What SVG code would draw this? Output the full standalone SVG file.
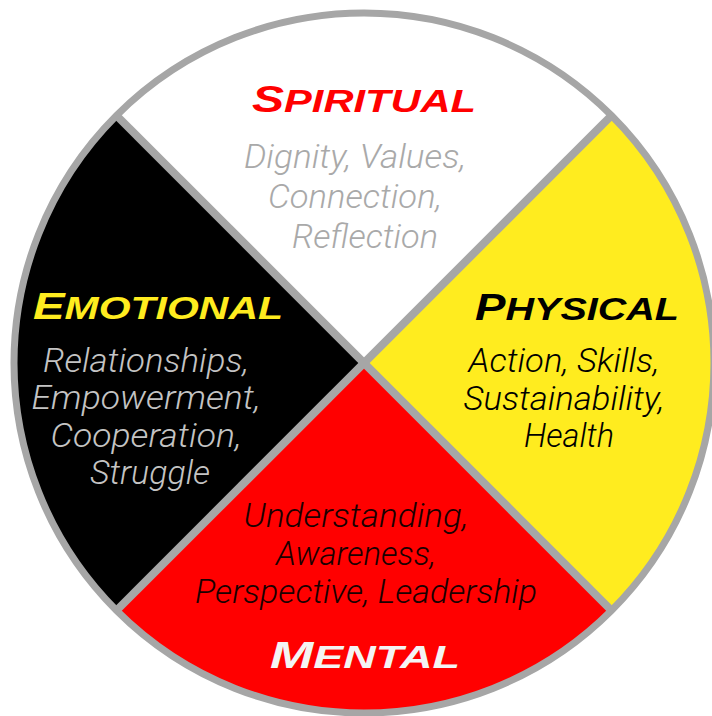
<svg xmlns="http://www.w3.org/2000/svg" width="712" height="716" viewBox="0 0 712 716">
<style>
.title{font-family:"Liberation Sans","DejaVu Sans",sans-serif;font-weight:bold;font-style:italic;text-anchor:middle;}
.body{font-family:Roboto,"Open Sans","Liberation Sans",sans-serif;font-weight:300;font-style:italic;font-size:33px;text-anchor:middle;}
.cap{font-size:37px;}
.rest{font-size:32px;}
</style>
<rect width="712" height="716" fill="#ffffff"/>
<g id="spiritual">
<path d="M364,363 L116.5,115.5 A350,350 0 0 1 611.5,115.5 Z" fill="#ffffff"/>
<text class="title" x="364" y="112" fill="#ff0000" textLength="224" lengthAdjust="spacingAndGlyphs"><tspan class="cap">S</tspan><tspan class="rest">PIRITUAL</tspan></text>
<text class="body" fill="#a9a9a9">
<tspan x="359" y="168" textLength="222" lengthAdjust="spacingAndGlyphs">Dignity, Values,</tspan>
<tspan x="359" y="208" textLength="174" lengthAdjust="spacingAndGlyphs">Connection,</tspan>
<tspan x="365" y="248" textLength="146" lengthAdjust="spacingAndGlyphs">Reflection</tspan>
</text>
</g>
<g id="physical">
<path d="M364,363 L611.5,115.5 A350,350 0 0 1 611.5,610.5 Z" fill="#ffec1f"/>
<text class="title" x="577" y="320" fill="#000000" textLength="204" lengthAdjust="spacingAndGlyphs"><tspan class="cap">P</tspan><tspan class="rest">HYSICAL</tspan></text>
<text class="body" fill="#000000">
<tspan x="568" y="372" textLength="191" lengthAdjust="spacingAndGlyphs">Action, Skills,</tspan>
<tspan x="568" y="410" textLength="201" lengthAdjust="spacingAndGlyphs">Sustainability,</tspan>
<tspan x="569" y="447" textLength="90" lengthAdjust="spacingAndGlyphs">Health</tspan>
</text>
</g>
<g id="mental">
<path d="M364,363 L611.5,610.5 A350,350 0 0 1 116.5,610.5 Z" fill="#ff0000"/>
<text class="title" x="365" y="668" fill="#f4f4f4" textLength="190" lengthAdjust="spacingAndGlyphs"><tspan class="cap">M</tspan><tspan class="rest">ENTAL</tspan></text>
<text class="body" fill="#1a0000">
<tspan x="360" y="527" textLength="225" lengthAdjust="spacingAndGlyphs">Understanding,</tspan>
<tspan x="360" y="565" textLength="160" lengthAdjust="spacingAndGlyphs">Awareness,</tspan>
<tspan x="366" y="603" textLength="342" lengthAdjust="spacingAndGlyphs">Perspective, Leadership</tspan>
</text>
</g>
<g id="emotional">
<path d="M364,363 L116.5,610.5 A350,350 0 0 1 116.5,115.5 Z" fill="#000000"/>
<text class="title" x="158" y="319" fill="#ffec1f" textLength="250" lengthAdjust="spacingAndGlyphs"><tspan class="cap">E</tspan><tspan class="rest">MOTIONAL</tspan></text>
<text class="body" fill="#c4c4c4">
<tspan x="150" y="372" textLength="206" lengthAdjust="spacingAndGlyphs">Relationships,</tspan>
<tspan x="150" y="409" textLength="229" lengthAdjust="spacingAndGlyphs">Empowerment,</tspan>
<tspan x="150" y="447" textLength="191" lengthAdjust="spacingAndGlyphs">Cooperation,</tspan>
<tspan x="150" y="484" textLength="120" lengthAdjust="spacingAndGlyphs">Struggle</tspan>
</text>
</g>
<g id="dividers" stroke="#a6a6a6" fill="none">
<line x1="116.5" y1="115.5" x2="611.5" y2="610.5" stroke-width="8"/>
<line x1="611.5" y1="115.5" x2="116.5" y2="610.5" stroke-width="8"/>
<circle cx="364" cy="363" r="350" stroke-width="7"/>
</g>
</svg>
